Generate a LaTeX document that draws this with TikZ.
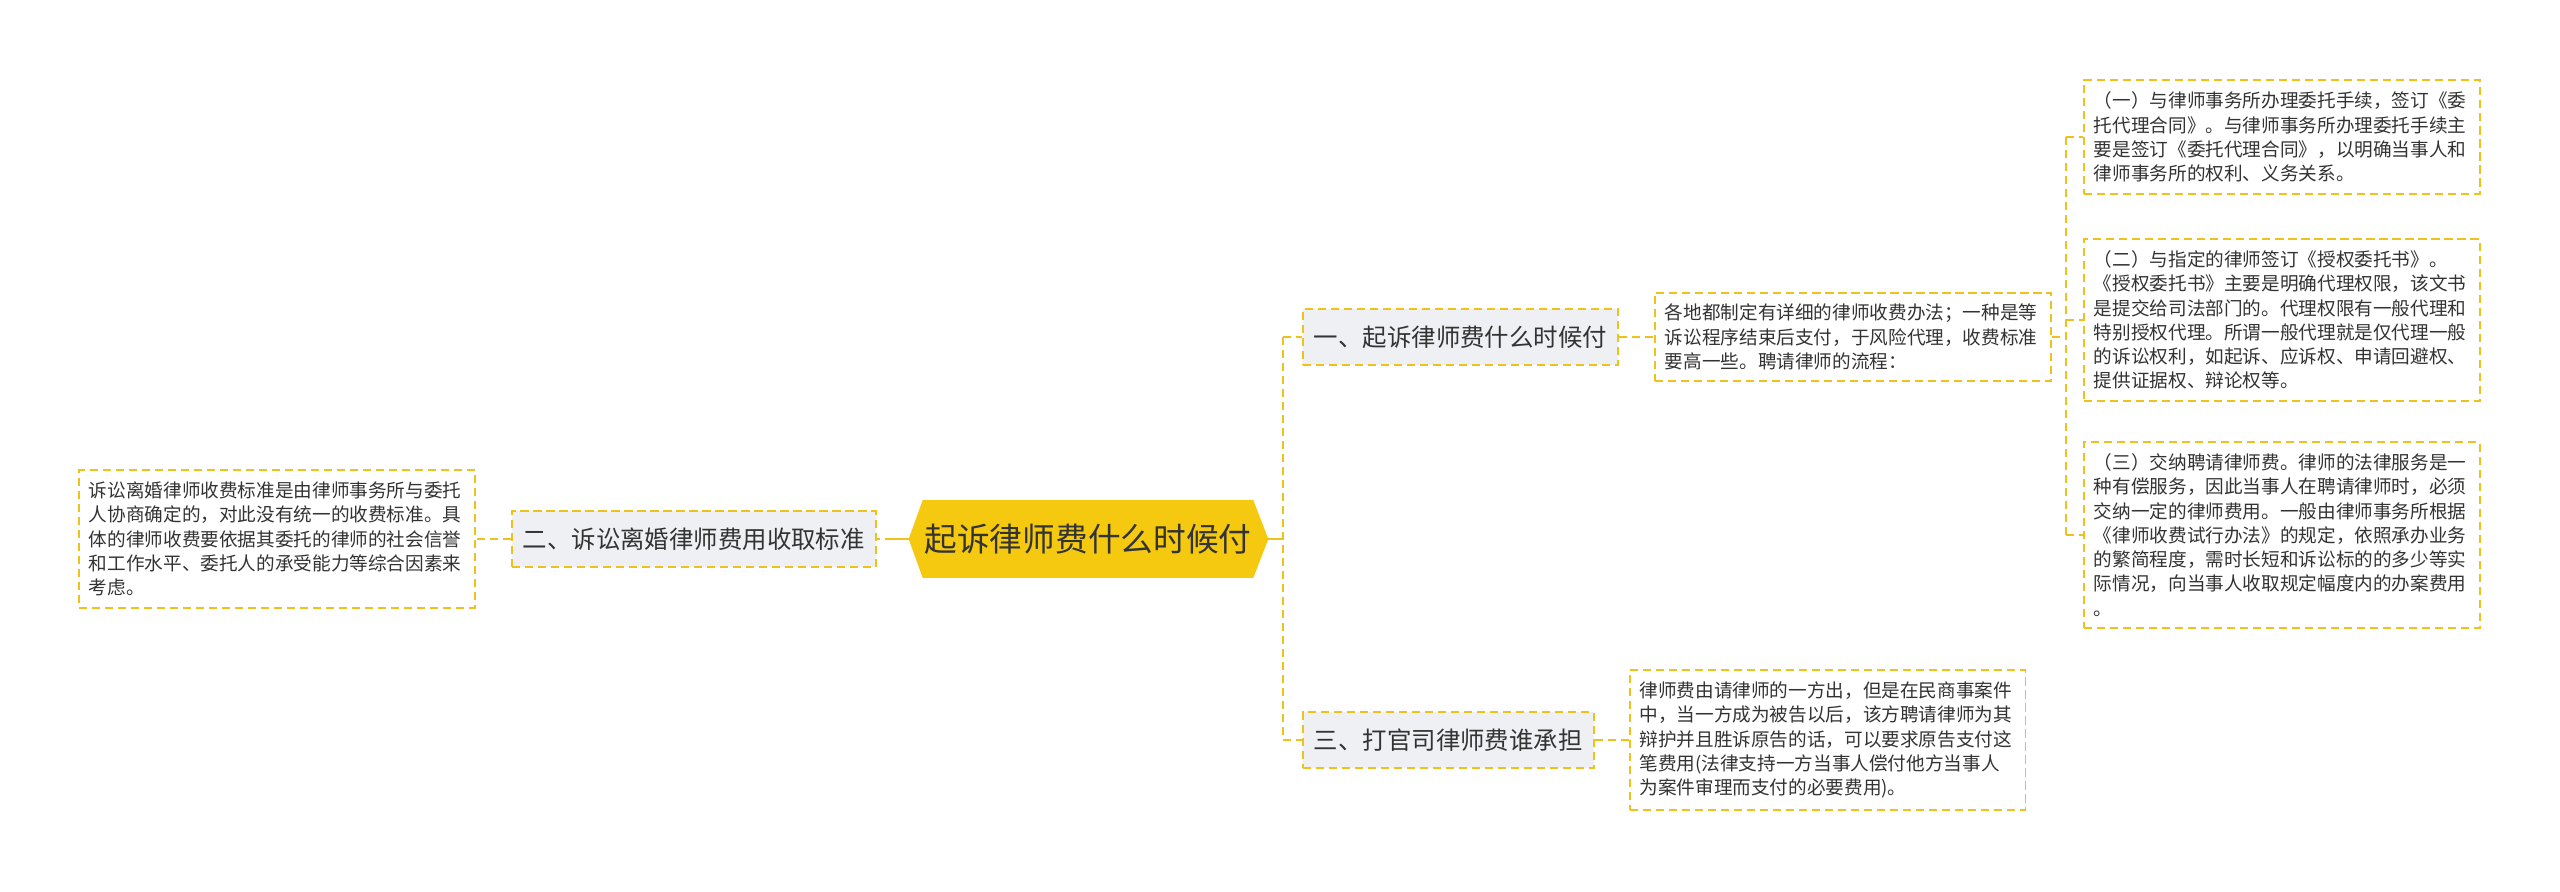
\documentclass[tikz,border=0pt]{standalone}
\usepackage{fontspec}
\setmainfont{Noto Sans CJK SC}
\usetikzlibrary{calc, positioning, backgrounds}
\definecolor{rootyellow}{HTML}{F5C90F}
\definecolor{linkyellow}{HTML}{EEC21B}
\definecolor{topicgray}{HTML}{EEF0F4}
\definecolor{inkgray}{HTML}{333333}

\begin{document}
\begin{tikzpicture}[
    x=0.02cm, y=-0.02cm,
    link/.style={draw=linkyellow, line width=1.1pt, dash pattern=on 4.6pt off 2.8pt},
    solidlink/.style={draw=linkyellow, line width=1.6pt},
    topic/.style={draw=linkyellow, line width=1.1pt, dash pattern=on 4.6pt off 2.8pt,
        fill=topicgray, text=inkgray, inner xsep=0.22cm, inner ysep=0pt,
        minimum height=1.12cm, font=\fontsize{13.9}{16}\selectfont},
    leaf/.style={draw=linkyellow, line width=1.1pt, dash pattern=on 4.6pt off 2.8pt,
        fill=white, text=inkgray, text width=7.52cm, align=left,
        inner xsep=0.2cm, inner ysep=0.23cm, font=\fontsize{10.6}{13.8}\selectfont}
  ]
  \useasboundingbox (0,0) rectangle (2560,892);

  % centre topic
  \node[minimum width=6.6cm, minimum height=1.54cm, inner sep=0pt, text=inkgray,
    font=\fontsize{18.6}{22}\selectfont] (root) at (1088,539) {起诉律师费什么时候付};

  % main topics
  \node[topic, anchor=west] (b1) at (1302,337) {一、起诉律师费什么时候付};
  \node[topic, anchor=west] (b3) at (1302,740) {三、打官司律师费谁承担};
  \node[topic, left=0.92cm of root] (b2) {二、诉讼离婚律师费用收取标准};

  % details
  \node[leaf, right=0.7cm of b1] (la) {各地都制定有详细的律师收费办法；一种是等\\
    诉讼程序结束后支付，于风险代理，收费标准\\
    要高一些。聘请律师的流程：};
  \node[leaf, right=0.68cm of b3] (l3) {律师费由请律师的一方出，但是在民商事案件\\
    中，当一方成为被告以后，该方聘请律师为其\\
    辩护并且胜诉原告的话，可以要求原告支付这\\
    笔费用(法律支持一方当事人偿付他方当事人\\
    为案件审理而支付的必要费用)。};
  \node[leaf, left=0.7cm of b2] (l2) {诉讼离婚律师收费标准是由律师事务所与委托\\
    人协商确定的，对此没有统一的收费标准。具\\
    体的律师收费要依据其委托的律师的社会信誉\\
    和工作水平、委托人的承受能力等综合因素来\\
    考虑。};

  \node[leaf, anchor=west] (l11) at (2083,137) {（一）与律师事务所办理委托手续，签订《委\\
    托代理合同》。与律师事务所办理委托手续主\\
    要是签订《委托代理合同》，以明确当事人和\\
    律师事务所的权利、义务关系。};
  \node[leaf, anchor=west] (l12) at (2083,320) {（二）与指定的律师签订《授权委托书》。\\
    《授权委托书》主要是明确代理权限，该文书\\
    是提交给司法部门的。代理权限有一般代理和\\
    特别授权代理。所谓一般代理就是仅代理一般\\
    的诉讼权利，如起诉、应诉权、申请回避权、\\
    提供证据权、辩论权等。};
  \node[leaf, anchor=west] (l13) at (2083,535) {（三）交纳聘请律师费。律师的法律服务是一\\
    种有偿服务，因此当事人在聘请律师时，必须\\
    交纳一定的律师费用。一般由律师事务所根据\\
    《律师收费试行办法》的规定，依照承办业务\\
    的繁简程度，需时长短和诉讼标的的多少等实\\
    际情况，向当事人收取规定幅度内的办案费用\\
    。};

  \begin{pgfonlayer}{background}
    \fill[white] (0,0) rectangle (2560,892);
    \fill[rootyellow] (root.north west) -- (root.north east)
      -- ($(root.east)+(15,0)$) -- (root.south east) -- (root.south west)
      -- ($(root.west)+(-14,0)$) -- cycle;
  \end{pgfonlayer}

  % connectors
  \coordinate (trunk) at (1283,539);
  \coordinate (lsplit) at (893,539);
  \coordinate (brk) at (2066,337);
  \draw[solidlink] ($(root.east)+(15,0)$) -- (trunk);
  \draw[link] (trunk |- b1.west) -- (trunk |- b3.west);
  \draw[link] (trunk |- b1.west) -- (b1.west);
  \draw[link] (trunk |- b3.west) -- (b3.west);
  \draw[solidlink] ($(root.west)+(-14,0)$) -- (lsplit);
  \draw[link] (lsplit) -- (b2.east);
  \draw[link] (b2.west) -- (l2.east);
  \draw[link] (b1.east) -- (la.west);
  \draw[link] (b3.east) -- (l3.west);
  \draw[link] (la.east) -- (brk);
  \draw[link] (brk |- l11.west) -- (brk |- l13.west);
  \foreach \n in {l11,l12,l13}
    \draw[link] (brk |- \n.west) -- (\n.west);
\end{tikzpicture}
\end{document}
